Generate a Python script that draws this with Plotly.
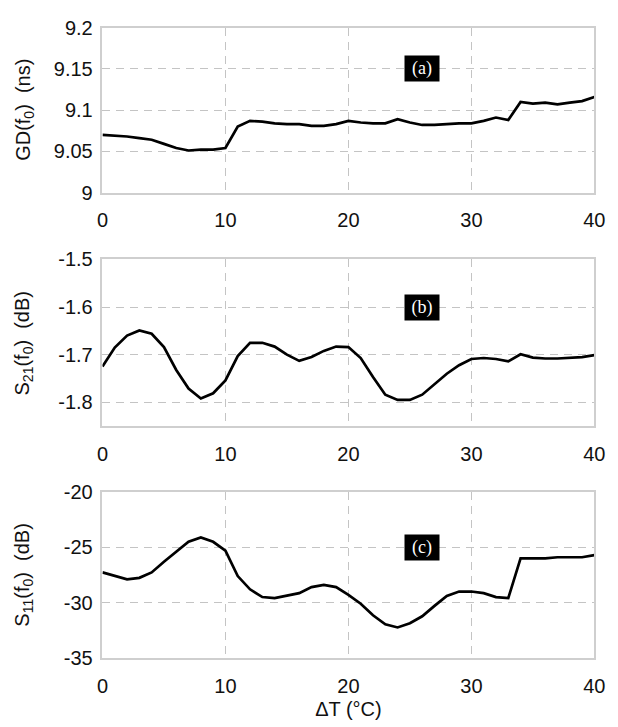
import plotly.graph_objects as go

dT = list(range(0, 41))

gd_ns = [9.070, 9.069, 9.068, 9.066, 9.064, 9.059, 9.054, 9.051, 9.052, 9.052,
         9.054, 9.080, 9.087, 9.086, 9.084, 9.083, 9.083, 9.081, 9.081, 9.083,
         9.087, 9.085, 9.084, 9.084, 9.089, 9.085, 9.082, 9.082, 9.083, 9.084,
         9.084, 9.087, 9.091, 9.088, 9.110, 9.108, 9.109, 9.107, 9.109, 9.111,
         9.116]

s21_db = [-1.725, -1.685, -1.660, -1.649, -1.656, -1.684, -1.732, -1.771, -1.792, -1.781,
          -1.754, -1.703, -1.675, -1.675, -1.683, -1.700, -1.713, -1.705, -1.692, -1.683,
          -1.684, -1.707, -1.747, -1.784, -1.795, -1.795, -1.784, -1.762, -1.740, -1.722,
          -1.709, -1.707, -1.709, -1.714, -1.699, -1.706, -1.708, -1.708, -1.707, -1.705,
          -1.701]

s11_db = [-27.27, -27.6, -27.9, -27.76, -27.27, -26.3, -25.4, -24.5, -24.1, -24.5,
          -25.3, -27.6, -28.8, -29.5, -29.6, -29.4, -29.15, -28.6, -28.4, -28.6,
          -29.3, -30.1, -31.15, -31.96, -32.25, -31.87, -31.24, -30.3, -29.4, -29.0,
          -29.0, -29.15, -29.5, -29.6, -26.0, -26.0, -26.0, -25.9, -25.9, -25.9,
          -25.7]

x_ticks = [0, 10, 20, 30, 40]
x_ticktext = ["0", "10", "20", "30", "40"]
gd_ticks = [9.0, 9.05, 9.1, 9.15, 9.2]
gd_ticktext = ["9", "9.05", "9.1", "9.15", "9.2"]
s21_ticks = [-1.8, -1.7, -1.6, -1.5]
s21_ticktext = ["-1.8", "-1.7", "-1.6", "-1.5"]
s11_ticks = [-35, -30, -25, -20]
s11_ticktext = ["-35", "-30", "-25", "-20"]

panel_labels = ["(a)", "(b)", "(c)"]
label_x = 26
label_y = [9.15, -1.6, -25]
y_titles = ["GD(f<sub>0</sub>)&nbsp;&nbsp;(ns)",
            "S<sub>21</sub>(f<sub>0</sub>)&nbsp;&nbsp;(dB)",
            "S<sub>11</sub>(f<sub>0</sub>)&nbsp;&nbsp;(dB)"]

# page has an 8px body margin; figure is sized/positioned to compensate
OFF = 8
W, H = 618 - OFF, 727 - OFF


def px_x(p):
    return (p - OFF) / W


def px_y(p):
    return 1 - (p - OFF) / H


x_dom = [px_x(99), px_x(605)]
y_doms = [[px_y(187), px_y(17)],
          [px_y(428), px_y(256)],
          [px_y(667), px_y(496)]]
y_ranges = [[9.0, 9.2], [-1.85, -1.5], [-35, -20]]
y_tv = [gd_ticks, s21_ticks, s11_ticks]
y_tt = [gd_ticktext, s21_ticktext, s11_ticktext]
series = [gd_ns, s21_db, s11_db]

font_family = "Liberation Sans, Arial, sans-serif"
grid_col = "#c4c4c4"
frame_col = "#cfcfcf"
FS = 20

fig = go.Figure()
layout = dict(
    width=W, height=H,
    margin=dict(l=0, r=0, t=0, b=0),
    paper_bgcolor="white", plot_bgcolor="white",
    showlegend=False,
    font=dict(family=font_family, size=FS, color="#111"),
)

annotations = []
for i in range(3):
    sfx = "" if i == 0 else str(i + 1)
    fig.add_trace(go.Scatter(
        x=dT, y=series[i], mode="lines",
        line=dict(color="black", width=2.7),
        xaxis="x" + sfx, yaxis="y" + sfx,
    ))
    layout["xaxis" + sfx] = dict(
        domain=x_dom, range=[0, 40], anchor="y" + sfx,
        tickvals=x_ticks, ticktext=x_ticktext,
        showgrid=True, gridcolor=grid_col, griddash="8px,6px", gridwidth=1,
        showline=True, mirror=True, linecolor=frame_col, linewidth=1.5,
        ticks="", ticklabelstandoff=9, zeroline=False,
        tickfont=dict(size=FS, family=font_family, color="#111"),
    )
    if i == 2:
        layout["xaxis" + sfx]["title"] = dict(
            text="ΔT (°C)", font=dict(size=FS, family=font_family, color="#111"),
            standoff=6)
    layout["yaxis" + sfx] = dict(
        domain=y_doms[i], range=y_ranges[i], anchor="x" + sfx,
        tickvals=y_tv[i], ticktext=y_tt[i],
        showgrid=True, gridcolor=grid_col, griddash="8px,6px", gridwidth=1,
        showline=True, mirror=True, linecolor=frame_col, linewidth=1.5,
        ticks="", ticklabelstandoff=4, zeroline=False,
        tickfont=dict(size=FS, family=font_family, color="#111"),
    )
    annotations.append(dict(
        x=label_x, y=label_y[i], xref="x" + sfx, yref="y" + sfx,
        text=panel_labels[i], showarrow=False,
        font=dict(family="Liberation Serif, Times New Roman, serif", size=18, color="white"),
        bgcolor="black", borderpad=0, width=34, height=25,
        xanchor="center", yanchor="middle",
    ))
    annotations.append(dict(
        x=px_x(18), y=(y_doms[i][0] + y_doms[i][1]) / 2, xref="paper", yref="paper",
        text=y_titles[i], showarrow=False, textangle=-90,
        font=dict(family=font_family, size=FS, color="#111"),
        xanchor="center", yanchor="middle",
    ))

layout["annotations"] = annotations
fig.update_layout(**layout)
fig.write_html("out.html")
